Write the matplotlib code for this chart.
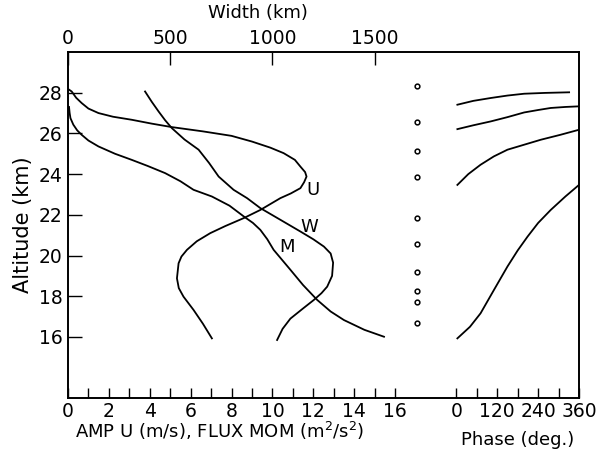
import numpy as np
import matplotlib.pyplot as plt

plt.rcParams['font.family'] = ['DejaVu Sans']

# amplitude / flux profiles (x in m/s or m2/s2, y altitude km)
u_amp = [0.05, 0.18, 0.4, 0.67, 1.0, 1.49, 2.2, 3.12, 4.1, 5.08, 6.6, 8.0, 9.0, 9.9, 10.55, 11.1, 11.37,
         11.6, 11.67, 11.55, 11.37, 10.9, 10.39, 9.41, 8.6, 7.7, 6.96, 6.3, 5.82, 5.55, 5.41, 5.33, 5.42,
         5.65, 6.14, 6.6, 7.04]
u_alt = [28.15, 28.06, 27.75, 27.49, 27.22, 27.0, 26.82, 26.67, 26.48, 26.31, 26.1, 25.88, 25.6, 25.3,
         25.03, 24.7, 24.37, 24.1, 23.88, 23.6, 23.31, 23.05, 22.82, 22.24, 21.84, 21.45, 21.1, 20.7,
         20.28, 19.95, 19.62, 18.88, 18.4, 17.98, 17.33, 16.65, 15.93]

m_flux = [0.05, 0.08, 0.12, 0.26, 0.45, 0.67, 1.0, 1.49, 2.3, 3.12, 3.9, 4.75, 5.5, 6.14, 7.04, 7.9,
          8.6, 9.05, 9.41, 9.75, 10.06, 10.88, 11.5, 12.19, 12.85, 13.5, 14.5, 15.46]
m_alt = [27.3, 27.0, 26.75, 26.43, 26.15, 25.93, 25.65, 25.36, 25.0, 24.7, 24.4, 24.05, 23.65, 23.23,
         22.9, 22.45, 21.92, 21.6, 21.26, 20.8, 20.28, 19.3, 18.55, 17.82, 17.25, 16.83, 16.35, 16.01]

# width (km)
w_width = [377, 410, 443, 475, 508, 570, 639, 690, 737, 810, 876, 941, 1040, 1137, 1200, 1252, 1285,
           1297, 1292, 1268, 1240, 1203, 1150, 1088, 1050, 1023]
w_alt = [28.06, 27.55, 27.08, 26.65, 26.26, 25.7, 25.2, 24.55, 23.88, 23.23, 22.82, 22.33, 21.75, 21.18,
         20.8, 20.44, 20.1, 19.65, 19.0, 18.47, 18.15, 17.82, 17.4, 16.9, 16.4, 15.85]

# phase profiles (deg)
ph1 = [3, 50, 101, 150, 199, 260, 331]
ph1_alt = [27.41, 27.6, 27.74, 27.86, 27.95, 27.99, 28.02]
ph2 = [3, 50, 101, 150, 199, 240, 277, 320, 360]
ph2_alt = [26.21, 26.4, 26.59, 26.8, 27.03, 27.15, 27.25, 27.3, 27.33]
ph3 = [3, 35, 71, 110, 150, 200, 248, 305, 360]
ph3_alt = [23.47, 24.0, 24.46, 24.87, 25.2, 25.45, 25.69, 25.93, 26.18]
ph4 = [3, 40, 71, 110, 150, 180, 209, 240, 277, 320, 360]
ph4_alt = [15.93, 16.5, 17.16, 18.3, 19.46, 20.25, 20.93, 21.6, 22.24, 22.9, 23.47]

# observation levels (open circles)
obs_alt = [28.35, 26.54, 25.15, 23.87, 21.85, 20.57, 19.2, 18.26, 17.7, 16.7]

PH0 = 19.0  # phase axis starts at this x position, 60 deg per unit


def ph_x(p):
  return PH0 + np.asarray(p) / 60.0


fig = plt.figure(figsize=(5.97, 4.55), dpi=100)
ax = fig.add_axes([68 / 597, 57 / 455, 511 / 597, 346 / 455])
lw = 1.3
ax.plot(u_amp, u_alt, color='black', lw=lw)
ax.plot(m_flux, m_alt, color='black', lw=lw)
ax.plot(np.asarray(w_width) / 100.0, w_alt, color='black', lw=lw)
for p, a in [(ph1, ph1_alt), (ph2, ph2_alt), (ph3, ph3_alt), (ph4, ph4_alt)]:
  ax.plot(ph_x(p), a, color='black', lw=lw)
ax.plot([17.06] * len(obs_alt), obs_alt, 'o', ms=3.4, mfc='white', mec='black', mew=1.1)

ax.text(12.0, 23.2, 'U', fontsize=13, ha='center', va='center')
ax.text(11.8, 21.4, 'W', fontsize=13, ha='center', va='center')
ax.text(10.7, 20.4, 'M', fontsize=13, ha='center', va='center')

ax.set_xlim(0, 25)
ax.set_ylim(13, 30)

amp_ticks = list(range(0, 17))
ph_ticks = [0, 60, 120, 180, 240, 300, 360]
ax.set_xticks(amp_ticks + list(ph_x(ph_ticks)))
labels = [str(t) if t % 2 == 0 else '' for t in amp_ticks]
labels += [str(p) if p % 120 == 0 else '' for p in ph_ticks]
ax.set_xticklabels(labels)
ax.set_yticks(range(16, 29, 2))
ax.tick_params(direction='in', length=10, width=1.0, labelsize=13.5, pad=4)
ax.tick_params(axis='x', length=7, pad=3)

top = ax.twiny()
top.set_xlim(0, 2500)
top.set_xticks([0, 500, 1000, 1500])
top.tick_params(direction='in', length=9, width=1.0, labelsize=13.5, pad=3)

for a in (ax, top):
  for s in a.spines.values():
    s.set_linewidth(1.2)

ax.text(7.4, 11.4, 'AMP U (m/s), FLUX MOM (m$^2$/s$^2$)', fontsize=13, ha='center', va='center')
ax.text(ph_x(180), 10.95, 'Phase (deg.)', fontsize=13, ha='center', va='center')
ax.text(9.3, 31.9, 'Width (km)', fontsize=13, ha='center', va='center')
ax.set_ylabel('Altitude (km)', fontsize=15, labelpad=4)

fig.savefig('out.png', dpi=100)
